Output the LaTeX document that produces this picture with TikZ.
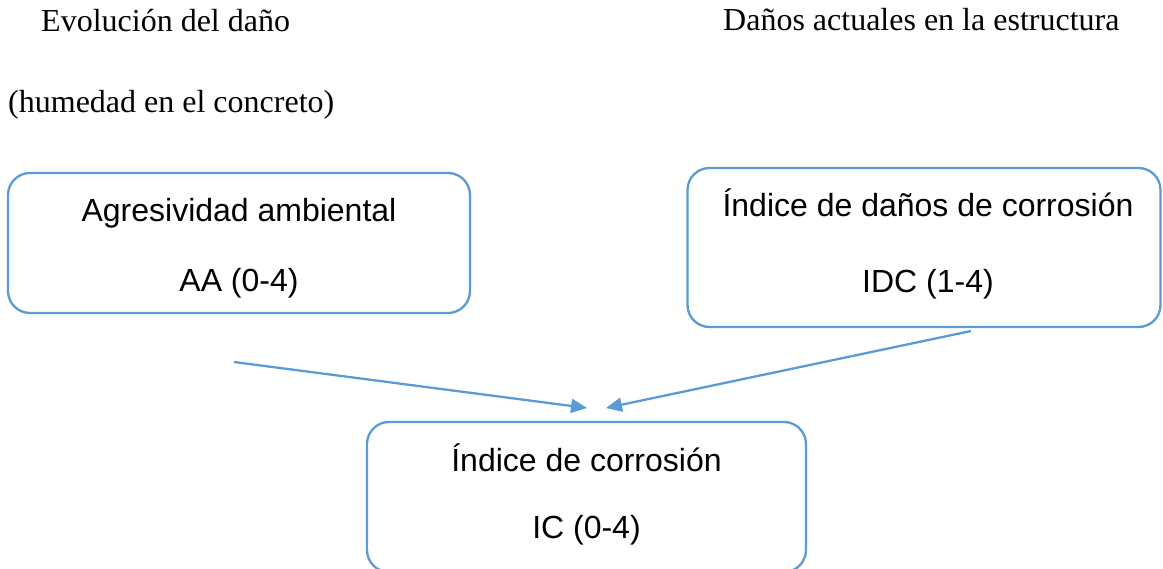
\documentclass[tikz,border=0pt]{standalone}
\usepackage{fontspec}
\setmainfont{Liberation Serif}
\newfontfamily\arialfont{Liberation Sans}
\usetikzlibrary{arrows.meta}
\definecolor{lineblue}{HTML}{5B9BD5}
\begin{document}
\begin{tikzpicture}[x=1pt,y=-1pt,
  boxstyle/.style={draw=lineblue, line width=2.3pt, rounded corners=22pt, inner sep=0pt},
  boxtext/.style={inner sep=0pt, align=center, font=\arialfont\fontsize{32}{38}\selectfont},
  toptext/.style={anchor=base west, inner sep=0pt, font=\fontsize{32}{38}\selectfont},
  arrowline/.style={draw=lineblue, line width=2.3pt,
    -{Triangle[length=16pt,width=14pt]}}]
\useasboundingbox (0,0) rectangle (1163,569);
\node[toptext] (t1) at (41,32) {Evolución del daño};
\node[toptext] (t2) at (8,113) {(humedad en el concreto)};
\node[toptext] (t3) at (723,31) {Daños actuales en la estructura};
\node[boxstyle, minimum width=462pt, minimum height=140pt,
  label={[boxtext, yshift=-5pt]center:{Agresividad ambiental\\[32pt]AA (0-4)}}] (aa) at (239,243) {};
\node[boxstyle, minimum width=473pt, minimum height=159pt,
  label={[boxtext, xshift=4pt, yshift=4pt]center:{Índice de daños de corrosión\\[38pt]IDC (1-4)}}] (idc) at (924,247.5) {};
\node[boxstyle, minimum width=439pt, minimum height=150pt,
  label={[boxtext, yshift=3pt]center:{Índice de corrosión\\[29pt]IC (0-4)}}] (ic) at (586.5,497) {};
\coordinate (s1) at (234,362);
\coordinate (e1) at (587,408);
\coordinate (s2) at (971,331);
\coordinate (e2) at (606,408);
\draw[arrowline] (s1) -- (e1);
\draw[arrowline] (s2) -- (e2);
\end{tikzpicture}
\end{document}
